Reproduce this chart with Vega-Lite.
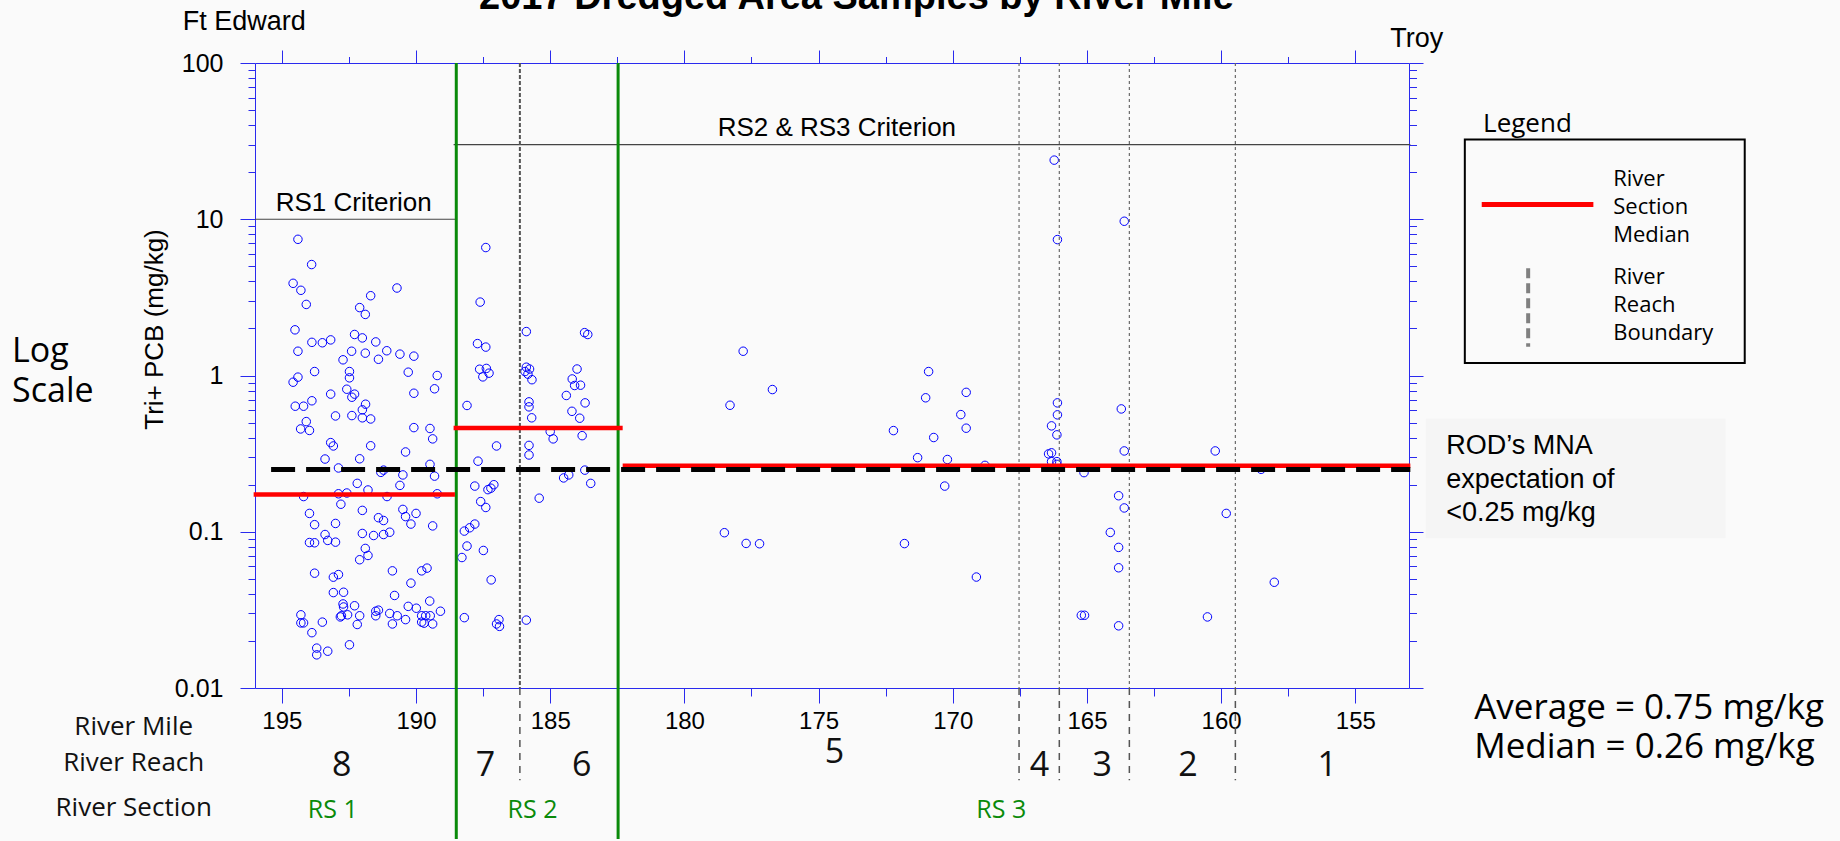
{
"$schema": "https://vega.github.io/schema/vega-lite/v6.json",
"width": 1154, "height": 625,
"autosize": {"type": "none"},
"padding": {"left": 255, "top": 63, "right": 431, "bottom": 153},
"background": "#fafafa",
"config": {"view": {"stroke": null}, "axis": {"grid": false, "domainColor": "#2a2aee", "tickColor": "#2a2aee", "domainWidth": 1, "tickWidth": 1, "labelColor": "#000000", "labelFont": "Liberation Sans", "labelFontSize": 24, "titleColor": "#000000", "labelFlush": false, "labelOverlap": false}},
"resolve": {"axis": {"x": "independent", "y": "independent"}},
"datasets": {
"one": [{}],
"samples": [
{"mile":194.40,"pcb":7.44},{"mile":193.89,"pcb":5.13},{"mile":194.58,"pcb":3.89},{"mile":194.29,"pcb":3.51},{"mile":194.09,"pcb":2.85},{"mile":194.51,"pcb":1.96},{"mile":194.40,"pcb":1.43},{"mile":193.88,"pcb":1.63},{"mile":193.49,"pcb":1.62},{"mile":193.18,"pcb":1.69},{"mile":192.10,"pcb":2.72},{"mile":191.89,"pcb":2.46},{"mile":191.69,"pcb":3.24},{"mile":190.71,"pcb":3.63},{"mile":192.29,"pcb":1.83},{"mile":192.00,"pcb":1.74},{"mile":191.50,"pcb":1.64},{"mile":192.40,"pcb":1.43},{"mile":191.89,"pcb":1.39},{"mile":191.09,"pcb":1.44},{"mile":190.60,"pcb":1.37},{"mile":190.08,"pcb":1.33},{"mile":192.72,"pcb":1.26},{"mile":191.40,"pcb":1.27},
{"mile":193.78,"pcb":1.06},{"mile":194.58,"pcb":0.906},{"mile":194.40,"pcb":0.976},{"mile":192.48,"pcb":1.06},{"mile":192.48,"pcb":0.966},{"mile":190.29,"pcb":1.05},{"mile":189.21,"pcb":1.0},{"mile":189.31,"pcb":0.822},{"mile":190.08,"pcb":0.77},{"mile":193.18,"pcb":0.76},{"mile":192.58,"pcb":0.817},{"mile":192.29,"pcb":0.76},{"mile":192.39,"pcb":0.726},{"mile":191.88,"pcb":0.655},{"mile":192.0,"pcb":0.603},{"mile":192.0,"pcb":0.536},{"mile":191.69,"pcb":0.527},{"mile":192.39,"pcb":0.554},{"mile":193.0,"pcb":0.551},{"mile":194.50,"pcb":0.636},{"mile":194.19,"pcb":0.636},{"mile":193.88,"pcb":0.689},{"mile":194.09,"pcb":0.507},{"mile":194.30,"pcb":0.455},{"mile":193.97,"pcb":0.445},{"mile":190.08,"pcb":0.464},{"mile":189.48,"pcb":0.458},{"mile":189.38,"pcb":0.393},{"mile":193.18,"pcb":0.372},{"mile":193.08,"pcb":0.354},{"mile":191.69,"pcb":0.355},{"mile":190.39,"pcb":0.324},{"mile":193.39,"pcb":0.292},{"mile":192.10,"pcb":0.293},{"mile":189.48,"pcb":0.27},{"mile":192.89,"pcb":0.256},{"mile":191.21,"pcb":0.248},{"mile":191.31,"pcb":0.24},{"mile":190.49,"pcb":0.231},{"mile":189.31,"pcb":0.227},{"mile":192.19,"pcb":0.204},{"mile":190.60,"pcb":0.198},{"mile":191.79,"pcb":0.185},{"mile":192.89,"pcb":0.175},{"mile":192.58,"pcb":0.177},{"mile":194.19,"pcb":0.168},{"mile":191.08,"pcb":0.168},{"mile":189.21,"pcb":0.175},{"mile":192.80,"pcb":0.15},{"mile":192.0,"pcb":0.137},{"mile":193.97,"pcb":0.131},{"mile":190.49,"pcb":0.139},{"mile":190.0,"pcb":0.131},{"mile":190.39,"pcb":0.125},{"mile":191.40,"pcb":0.123},{"mile":191.21,"pcb":0.118},{"mile":193.78,"pcb":0.111},{"mile":193.0,"pcb":0.113},{"mile":190.19,"pcb":0.112},{"mile":189.38,"pcb":0.109},{"mile":192.0,"pcb":0.0975},{"mile":191.58,"pcb":0.0946},{"mile":191.21,"pcb":0.096},{"mile":190.98,"pcb":0.0993},{"mile":193.39,"pcb":0.096},{"mile":193.29,"pcb":0.088},{"mile":193.0,"pcb":0.0858},{"mile":193.97,"pcb":0.0853},{"mile":193.78,"pcb":0.085},{"mile":191.89,"pcb":0.0782},{"mile":191.79,"pcb":0.0705},{"mile":192.10,"pcb":0.0662},{"mile":193.78,"pcb":0.0543},{"mile":193.08,"pcb":0.0512},{"mile":192.89,"pcb":0.0532},{"mile":190.88,"pcb":0.0562},{"mile":189.79,"pcb":0.0562},{"mile":189.59,"pcb":0.0585},{"mile":190.19,"pcb":0.0469},{"mile":193.08,"pcb":0.0408},{"mile":192.70,"pcb":0.041},{"mile":190.80,"pcb":0.0391},{"mile":189.49,"pcb":0.036},{"mile":192.70,"pcb":0.033},{"mile":192.72,"pcb":0.0345},{"mile":192.29,"pcb":0.0336},{"mile":190.29,"pcb":0.0333},{"mile":189.99,"pcb":0.0324},{"mile":189.09,"pcb":0.031},{"mile":191.50,"pcb":0.031},{"mile":191.40,"pcb":0.0315},{"mile":194.29,"pcb":0.0294},{"mile":192.78,"pcb":0.029},{"mile":192.82,"pcb":0.0285},{"mile":192.55,"pcb":0.0294},{"mile":192.10,"pcb":0.029},{"mile":191.50,"pcb":0.029},{"mile":190.98,"pcb":0.03},{"mile":190.70,"pcb":0.029},{"mile":189.79,"pcb":0.029},{"mile":189.64,"pcb":0.029},{"mile":189.47,"pcb":0.029},{"mile":194.29,"pcb":0.0261},{"mile":194.19,"pcb":0.0261},{"mile":193.49,"pcb":0.0264},{"mile":192.19,"pcb":0.0255},{"mile":190.88,"pcb":0.0257},{"mile":190.39,"pcb":0.0274},{"mile":189.79,"pcb":0.0264},{"mile":189.70,"pcb":0.026},{"mile":189.38,"pcb":0.0257},{"mile":193.88,"pcb":0.0226},{"mile":193.70,"pcb":0.018},{"mile":193.70,"pcb":0.0163},{"mile":193.29,"pcb":0.0172},{"mile":192.48,"pcb":0.0189},
{"mile":187.40,"pcb":6.59},{"mile":187.61,"pcb":2.95},{"mile":187.71,"pcb":1.60},{"mile":187.40,"pcb":1.52},{"mile":185.89,"pcb":1.91},{"mile":183.72,"pcb":1.88},{"mile":183.60,"pcb":1.83},{"mile":187.63,"pcb":1.097},{"mile":187.38,"pcb":1.11},{"mile":187.51,"pcb":0.98},{"mile":187.28,"pcb":1.035},{"mile":188.10,"pcb":0.643},{"mile":185.89,"pcb":1.13},{"mile":185.77,"pcb":1.10},{"mile":185.94,"pcb":1.06},{"mile":185.83,"pcb":1.02},{"mile":185.68,"pcb":0.94},{"mile":185.79,"pcb":0.678},{"mile":185.79,"pcb":0.63},{"mile":185.69,"pcb":0.536},{"mile":185.79,"pcb":0.357},{"mile":185.79,"pcb":0.31},{"mile":184.0,"pcb":1.10},{"mile":184.18,"pcb":0.95},{"mile":184.09,"pcb":0.863},{"mile":183.87,"pcb":0.867},{"mile":184.40,"pcb":0.745},{"mile":183.70,"pcb":0.668},{"mile":184.19,"pcb":0.59},{"mile":183.90,"pcb":0.533},{"mile":183.81,"pcb":0.412},{"mile":185.0,"pcb":0.438},{"mile":184.89,"pcb":0.393},{"mile":183.71,"pcb":0.248},{"mile":183.49,"pcb":0.204},{"mile":184.50,"pcb":0.221},{"mile":184.31,"pcb":0.231},{"mile":185.41,"pcb":0.164},{"mile":187.0,"pcb":0.354},{"mile":187.69,"pcb":0.283},{"mile":187.81,"pcb":0.196},{"mile":187.32,"pcb":0.186},{"mile":187.21,"pcb":0.19},{"mile":187.10,"pcb":0.2},{"mile":187.59,"pcb":0.156},{"mile":187.40,"pcb":0.143},{"mile":188.20,"pcb":0.101},{"mile":188.0,"pcb":0.106},{"mile":187.81,"pcb":0.112},{"mile":188.10,"pcb":0.081},{"mile":188.29,"pcb":0.0684},{"mile":187.49,"pcb":0.0759},{"mile":187.20,"pcb":0.0492},{"mile":188.20,"pcb":0.0282},{"mile":187.0,"pcb":0.0257},{"mile":186.91,"pcb":0.0274},{"mile":186.89,"pcb":0.0248},{"mile":185.89,"pcb":0.0272},
{"mile":177.81,"pcb":1.43},{"mile":176.72,"pcb":0.813},{"mile":170.90,"pcb":1.06},{"mile":169.50,"pcb":0.78},{"mile":171.01,"pcb":0.72},{"mile":178.30,"pcb":0.645},{"mile":169.70,"pcb":0.562},{"mile":169.50,"pcb":0.46},{"mile":172.21,"pcb":0.444},{"mile":170.71,"pcb":0.401},{"mile":171.31,"pcb":0.298},{"mile":170.20,"pcb":0.29},{"mile":168.80,"pcb":0.266},{"mile":170.30,"pcb":0.196},{"mile":178.51,"pcb":0.0986},{"mile":177.70,"pcb":0.0842},{"mile":177.20,"pcb":0.0838},{"mile":171.80,"pcb":0.084},{"mile":169.12,"pcb":0.0513},{"mile":166.22,"pcb":23.9},{"mile":163.61,"pcb":9.71},{"mile":166.10,"pcb":7.41},{"mile":166.10,"pcb":0.668},{"mile":166.10,"pcb":0.56},{"mile":166.32,"pcb":0.476},{"mile":166.12,"pcb":0.417},{"mile":166.43,"pcb":0.315},{"mile":166.32,"pcb":0.32},{"mile":166.32,"pcb":0.281},{"mile":166.12,"pcb":0.281},{"mile":166.12,"pcb":0.27},{"mile":165.11,"pcb":0.239},{"mile":163.72,"pcb":0.611},{"mile":163.61,"pcb":0.329},{"mile":163.82,"pcb":0.17},{"mile":163.61,"pcb":0.142},{"mile":164.13,"pcb":0.099},{"mile":163.82,"pcb":0.0794},{"mile":163.82,"pcb":0.0588},{"mile":165.21,"pcb":0.0292},{"mile":165.09,"pcb":0.0292},{"mile":163.82,"pcb":0.025},{"mile":160.22,"pcb":0.329},{"mile":159.81,"pcb":0.131},{"mile":160.51,"pcb":0.0285},{"mile":158.51,"pcb":0.251},{"mile":158.02,"pcb":0.0475}
],
"sectionBounds": [{"mile":188.5},{"mile":182.47}],
"reachBounds": [{"mile":186.13},{"mile":167.53},{"mile":166.03},{"mile":163.42},{"mile":159.47}],
"medians": [{"section":"RS 1","start":196.05,"end":188.55,"median":0.173},{"section":"RS 2","start":188.6,"end":182.3,"median":0.462},{"section":"RS 3","start":182.3,"end":152.95,"median":0.264}],
"mna": [{"start":195.4,"end":152.95,"value":0.25}],
"criteria": [{"label":"RS1 Criterion","start":196,"end":188.5,"value":10,"center":192.32},{"label":"RS2 & RS3 Criterion","start":188.6,"end":152.95,"value":30,"center":174.32}],
"reaches": [{"reach":"8","mile":192.77},{"reach":"7","mile":187.41},{"reach":"6","mile":183.83},{"reach":"5","mile":174.41},{"reach":"4","mile":166.77},{"reach":"3","mile":164.43},{"reach":"2","mile":161.24},{"reach":"1","mile":156.05}],
"sections": [{"section":"RS 1","mile":193.1},{"section":"RS 2","mile":185.66},{"section":"RS 3","mile":168.19}]
},
"layer": [
{"data": {"name": "one"}, "mark": {"type": "rect", "fill": "#f5f5f5"},
 "encoding": {"x": {"datum": 152.37, "axis": null}, "x2": {"datum": 141.2}, "y": {"datum": 0.5302, "axis": null}, "y2": {"datum": 0.09085}}},
{"data": {"name": "criteria"},
 "mark": {"type": "rule", "color": "#444444", "strokeWidth": 1.2},
 "encoding": {
  "x": {"field": "start", "type": "quantitative", "scale": {"domain": [153, 196], "reverse": true, "nice": false, "zero": false},
        "axis": {"orient": "top", "values": [195,190,185,180,175,170,165,160,155], "labels": false, "tickSize": 13, "title": null}},
  "x2": {"field": "end"},
  "y": {"field": "value", "type": "quantitative", "scale": {"type": "log", "domain": [0.01, 100], "nice": false},
        "axis": {"orient": "right", "values": [0.01,0.1,1,10,100], "labels": false, "tickSize": 14, "title": null}}}},
{"data": {"name": "samples"},
 "mark": {"type": "point", "shape": "circle", "filled": false, "stroke": "#0000ff", "strokeWidth": 1, "size": 72, "opacity": 1},
 "encoding": {
  "x": {"field": "mile", "type": "quantitative", "scale": {"domain": [153, 196], "reverse": true, "nice": false, "zero": false},
        "axis": {"orient": "bottom", "values": [195,190,185,180,175,170,165,160,155], "format": "d", "tickSize": 15, "labelPadding": 25, "labelBaseline": "alphabetic", "title": null}},
  "y": {"field": "pcb", "type": "quantitative", "scale": {"type": "log", "domain": [0.01, 100], "nice": false},
        "axis": {"orient": "left", "values": [0.01,0.1,1,10,100], "format": "~g", "tickSize": 15, "labelPadding": 17, "labelFontSize": 25, "title": "Tri+ PCB (mg/kg)", "titleFont": "Liberation Sans", "titleFontSize": 26, "titleFontWeight": "normal", "titlePadding": 7, "titleY": 266}}}},
{"data": {"name": "reachBounds"}, "transform": [{"filter": "datum.mile < 180"}],
 "mark": {"type": "rule", "color": "#6a6a6a", "strokeWidth": 1.2, "strokeDash": [3, 3]},
 "encoding": {"x": {"field": "mile", "type": "quantitative", "axis": null}, "y": {"datum": 100, "axis": null}, "y2": {"datum": 0.01}}},
{"data": {"name": "reachBounds"}, "transform": [{"filter": "datum.mile > 180"}],
 "mark": {"type": "rule", "color": "#555555", "strokeWidth": 2, "strokeDash": [4, 2]},
 "encoding": {"x": {"field": "mile", "type": "quantitative", "axis": null}, "y": {"datum": 100, "axis": null}, "y2": {"datum": 0.01}}},
{"data": {"name": "reachBounds"},
 "mark": {"type": "rule", "color": "#555555", "strokeWidth": 1.5, "strokeDash": [7, 6]},
 "encoding": {"x": {"field": "mile", "type": "quantitative", "axis": null}, "y": {"datum": 0.01, "axis": null}, "y2": {"datum": 0.00257}}},
{"data": {"name": "sectionBounds"},
 "mark": {"type": "rule", "color": "#0a8a0a", "strokeWidth": 3},
 "encoding": {"x": {"field": "mile", "type": "quantitative", "axis": null}, "y": {"datum": 100, "axis": null}, "y2": {"datum": 0.00108}}},
{"data": {"name": "medians"},
 "mark": {"type": "rule", "color": "#ff0000", "strokeWidth": 4.5},
 "encoding": {
  "x": {"field": "start", "type": "quantitative",
        "axis": {"orient": "bottom", "values": [192.5,187.5,182.5,177.5,172.5,167.5,162.5,157.5], "labels": false, "tickSize": 8, "domain": false, "title": null}},
  "x2": {"field": "end"},
  "y": {"field": "median", "type": "quantitative",
        "axis": {"orient": "left", "values": [0.02,0.03,0.04,0.05,0.06,0.07,0.08,0.09,0.2,0.3,0.4,0.5,0.6,0.7,0.8,0.9,2,3,4,5,6,7,8,9,20,30,40,50,60,70,80,90], "labels": false, "tickSize": 7, "domain": false, "title": null}}}},
{"data": {"name": "mna"},
 "mark": {"type": "rule", "color": "#000000", "strokeWidth": 5, "strokeDash": [24, 11]},
 "encoding": {
  "x": {"field": "start", "type": "quantitative",
        "axis": {"orient": "top", "values": [192.5,187.5,182.5,177.5,172.5,167.5,162.5,157.5], "labels": false, "tickSize": 6.5, "domain": false, "title": null}},
  "x2": {"field": "end"},
  "y": {"field": "value", "type": "quantitative",
        "axis": {"orient": "right", "values": [0.02,0.03,0.04,0.05,0.06,0.07,0.08,0.09,0.2,0.3,0.4,0.5,0.6,0.7,0.8,0.9,2,3,4,5,6,7,8,9,20,30,40,50,60,70,80,90], "labels": false, "tickSize": 7.5, "domain": false, "title": null}}}},
{"data": {"name": "criteria"},
 "mark": {"type": "text", "font": "Liberation Sans", "fontSize": 26, "color": "#000000", "align": "center", "baseline": "alphabetic", "dy": -8.5},
 "encoding": {"x": {"field": "center", "type": "quantitative", "axis": null}, "y": {"field": "value", "type": "quantitative", "axis": null}, "text": {"field": "label"}}},
{"data": {"name": "reaches"}, "transform": [{"filter": "datum.reach != '5'"}],
 "mark": {"type": "text", "font": "Open Sans", "fontSize": 34, "color": "#111111", "align": "center", "baseline": "alphabetic"},
 "encoding": {"x": {"field": "mile", "type": "quantitative", "axis": null}, "y": {"datum": 0.002729, "axis": null}, "text": {"field": "reach"}}},
{"data": {"name": "reaches"}, "transform": [{"filter": "datum.reach == '5'"}],
 "mark": {"type": "text", "font": "Open Sans", "fontSize": 34, "color": "#111111", "align": "center", "baseline": "alphabetic"},
 "encoding": {"x": {"field": "mile", "type": "quantitative", "axis": null}, "y": {"datum": 0.00332, "axis": null}, "text": {"field": "reach"}}},
{"data": {"name": "sections"},
 "mark": {"type": "text", "font": "Open Sans", "fontSize": 25, "color": "#0a8a0a", "align": "center", "baseline": "alphabetic"},
 "encoding": {"x": {"field": "mile", "type": "quantitative", "axis": null}, "y": {"datum": 0.001474, "axis": null}, "text": {"field": "section"}}},
{"data": {"name": "one"}, "mark": {"type": "text", "font": "Open Sans", "fontSize": 26, "color": "#111111", "align": "center", "baseline": "alphabetic", "text": "River Mile"},
 "encoding": {"x": {"datum": 200.52, "axis": null}, "y": {"datum": 0.004996, "axis": null}}},
{"data": {"name": "one"}, "mark": {"type": "text", "font": "Open Sans", "fontSize": 26, "color": "#111111", "align": "center", "baseline": "alphabetic", "text": "River Reach"},
 "encoding": {"x": {"datum": 200.52, "axis": null}, "y": {"datum": 0.002938, "axis": null}}},
{"data": {"name": "one"}, "mark": {"type": "text", "font": "Open Sans", "fontSize": 26, "color": "#111111", "align": "center", "baseline": "alphabetic", "text": "River Section"},
 "encoding": {"x": {"datum": 200.52, "axis": null}, "y": {"datum": 0.001512, "axis": null}}},
{"data": {"name": "one"}, "mark": {"type": "text", "font": "Liberation Sans", "fontSize": 38, "fontWeight": "bold", "color": "#000000", "align": "center", "baseline": "alphabetic", "text": "2017 Dredged Area Samples by River Mile"},
 "encoding": {"x": {"datum": 173.59, "axis": null}, "y": {"datum": 221.9, "axis": null}}},
{"data": {"name": "one"}, "mark": {"type": "text", "font": "Liberation Sans", "fontSize": 27, "color": "#000000", "align": "left", "baseline": "alphabetic", "text": "Ft Edward"},
 "encoding": {"x": {"datum": 198.69, "axis": null}, "y": {"datum": 162.7, "axis": null}}},
{"data": {"name": "one"}, "mark": {"type": "text", "font": "Liberation Sans", "fontSize": 27, "color": "#000000", "align": "left", "baseline": "alphabetic", "text": "Troy"},
 "encoding": {"x": {"datum": 153.7, "axis": null}, "y": {"datum": 126.7, "axis": null}}},
{"data": {"name": "one"}, "mark": {"type": "text", "font": "Open Sans", "fontSize": 34, "color": "#000000", "align": "left", "baseline": "alphabetic", "text": "Log"},
 "encoding": {"x": {"datum": 205.05, "axis": null}, "y": {"datum": 1.229, "axis": null}}},
{"data": {"name": "one"}, "mark": {"type": "text", "font": "Open Sans", "fontSize": 34, "color": "#000000", "align": "left", "baseline": "alphabetic", "text": "Scale"},
 "encoding": {"x": {"datum": 205.05, "axis": null}, "y": {"datum": 0.6743, "axis": null}}},
{"data": {"name": "one"}, "mark": {"type": "text", "font": "Open Sans", "fontSize": 26, "color": "#000000", "align": "left", "baseline": "alphabetic", "text": "Legend"},
 "encoding": {"x": {"datum": 150.24, "axis": null}, "y": {"datum": 36.1, "axis": null}}},
{"data": {"name": "one"}, "mark": {"type": "rect", "fill": null, "fillOpacity": 0, "stroke": "#000000", "strokeWidth": 2},
 "encoding": {"x": {"datum": 150.92, "axis": null}, "x2": {"datum": 140.49}, "y": {"datum": 32.4, "axis": null}, "y2": {"datum": 1.2025}}},
{"data": {"name": "one"}, "mark": {"type": "rule", "color": "#ff0000", "strokeWidth": 5},
 "encoding": {"x": {"datum": 150.29, "axis": null}, "x2": {"datum": 146.13}, "y": {"datum": 12.42, "axis": null}}},
{"data": {"name": "one"}, "mark": {"type": "rule", "color": "#808080", "strokeWidth": 4, "strokeDash": [10, 5]},
 "encoding": {"x": {"datum": 148.56, "axis": null}, "y": {"datum": 4.852, "axis": null}, "y2": {"datum": 1.525}}},
{"data": {"name": "one"}, "mark": {"type": "text", "font": "Open Sans", "fontSize": 22, "color": "#000000", "align": "left", "baseline": "alphabetic", "lineHeight": 28, "text": ["River", "Section", "Median"]},
 "encoding": {"x": {"datum": 145.39, "axis": null}, "y": {"datum": 16.35, "axis": null}}},
{"data": {"name": "one"}, "mark": {"type": "text", "font": "Open Sans", "fontSize": 22, "color": "#000000", "align": "left", "baseline": "alphabetic", "lineHeight": 28, "text": ["River", "Reach", "Boundary"]},
 "encoding": {"x": {"datum": 145.39, "axis": null}, "y": {"datum": 3.831, "axis": null}}},
{"data": {"name": "one"}, "mark": {"type": "text", "font": "Liberation Sans", "fontSize": 27, "color": "#000000", "align": "left", "baseline": "alphabetic", "lineHeight": 33.5, "text": ["ROD’s MNA", "expectation of", "<0.25 mg/kg"]},
 "encoding": {"x": {"datum": 151.61, "axis": null}, "y": {"datum": 0.3134, "axis": null}}},
{"data": {"name": "one"}, "mark": {"type": "text", "font": "Open Sans", "fontSize": 35, "color": "#000000", "align": "left", "baseline": "alphabetic", "lineHeight": 39, "text": ["Average = 0.75 mg/kg", "Median = 0.26 mg/kg"]},
 "encoding": {"x": {"datum": 150.57, "axis": null}, "y": {"datum": 0.006329, "axis": null}}}
]
}
